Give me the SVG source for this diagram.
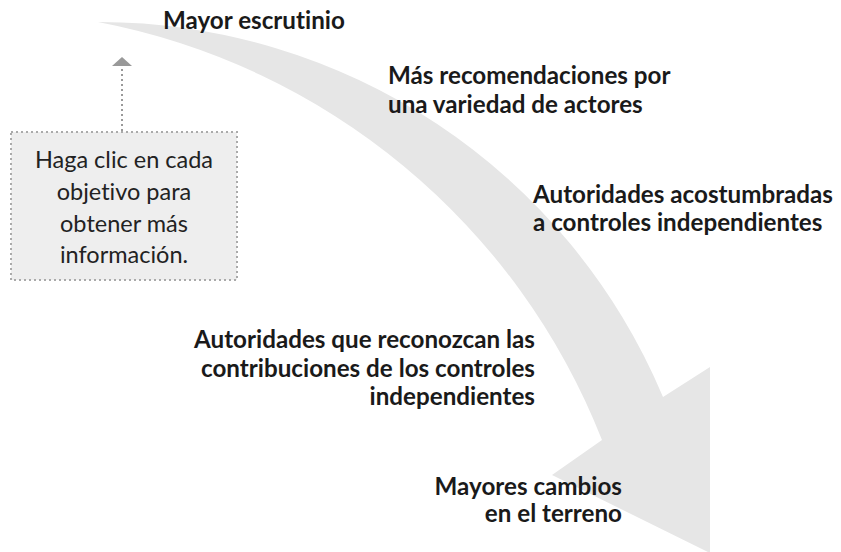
<svg xmlns="http://www.w3.org/2000/svg" width="841" height="552" viewBox="0 0 841 552">
<style>
text{font-variant-ligatures:none;font-feature-settings:"liga" 0,"clig" 0}
.lbl{font-family:Lato,"Open Sans",sans-serif;font-weight:700;font-size:24.2px;fill:#1a1a1a}
.note{font-family:Lato,"Open Sans",sans-serif;font-weight:400;font-size:23.5px;fill:#222}
</style>
<rect width="841" height="552" fill="#ffffff"/>
<g id="connectors">
<path id="main-arrow" d="M98,22 A612,612 0 0 1 663,397 L710,367 L710,553 L552,475 L602,440 A678,678 0 0 0 98,22 Z" fill="#e6e6e6"/>
<line x1="122" y1="131" x2="122" y2="67" stroke="#999" stroke-width="2" stroke-dasharray="2,3"/>
<polygon points="122,57 132,66 112,66" fill="#999"/>
</g>
<g id="note">
<rect x="11" y="132" width="226" height="148" fill="#eeeeee" stroke="#aaa" stroke-width="2" stroke-dasharray="2,3"/>
<text class="note" text-anchor="middle" x="124"><tspan x="124" y="168">Haga clic en cada</tspan><tspan x="124" y="200">objetivo para</tspan><tspan x="124" y="232">obtener más</tspan><tspan x="124" y="263">información.</tspan></text>
</g>
<g id="n1"><text class="lbl" x="163" y="29">Mayor escrutinio</text></g>
<g id="n2"><text class="lbl" x="388"><tspan x="388" y="84">Más recomendaciones por</tspan><tspan x="388" y="113">una variedad de actores</tspan></text></g>
<g id="n3"><text class="lbl" x="533"><tspan x="533" y="203">Autoridades acostumbradas</tspan><tspan x="533" y="231">a controles independientes</tspan></text></g>
<g id="n4"><text class="lbl" text-anchor="end" x="535"><tspan x="535" y="348">Autoridades que reconozcan las</tspan><tspan x="535" y="377">contribuciones de los controles</tspan><tspan x="535" y="405">independientes</tspan></text></g>
<g id="n5"><text class="lbl" text-anchor="end" x="622"><tspan x="622" y="495">Mayores cambios</tspan><tspan x="622" y="522">en el terreno</tspan></text></g>
</svg>
